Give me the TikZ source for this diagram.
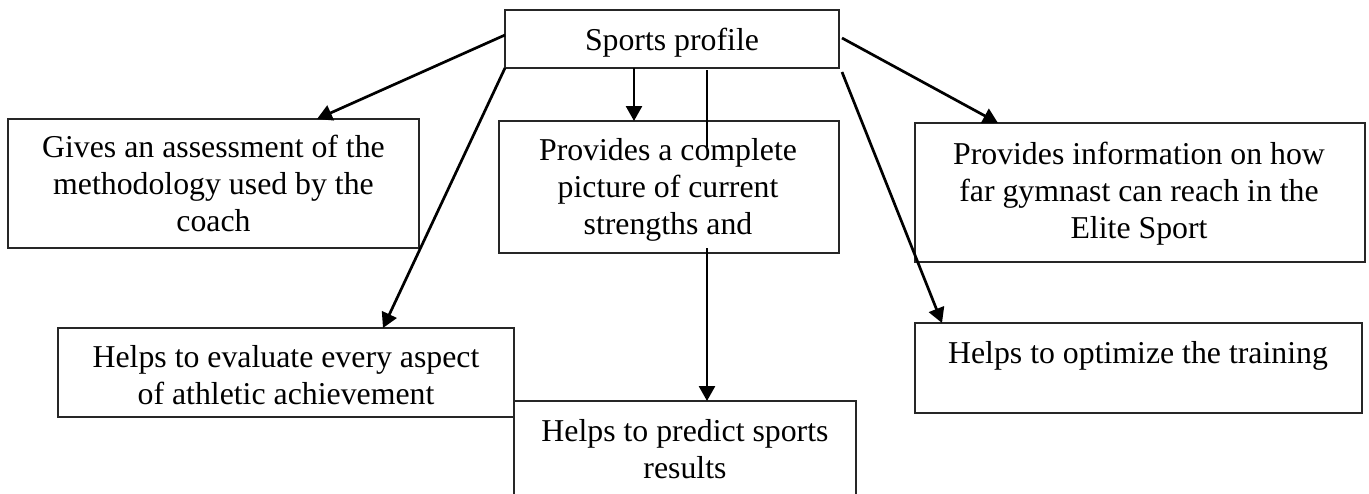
\documentclass[tikz,border=0pt]{standalone}
\usepackage{fontspec}
\setmainfont{Liberation Serif}
\usetikzlibrary{arrows.meta}
\tikzset{
  box/.style={draw=black!85, line width=1.2pt, rectangle, inner sep=0pt, outer sep=0pt, anchor=north west},
  txt/.style={inner sep=0pt, outer sep=0pt, anchor=base, align=center, font=\fontsize{31.8}{36.8}\selectfont},
  arr/.style={line width=2.7pt, -{Triangle[length=15pt,width=16pt]}},
  thinline/.style={line width=1.2pt}
}
\begin{document}
\begin{tikzpicture}[x=1pt,y=-1pt]
\useasboundingbox (0,0) rectangle (1369,493);
% boxes
\node[box, minimum width=334pt, minimum height=58pt] (top) at (505,10) {};
\node[box, minimum width=411pt, minimum height=129pt] (left) at (8,119) {};
\node[box, minimum width=340pt, minimum height=132pt] (mid) at (499,121) {};
\node[box, minimum width=456pt, minimum height=89pt] (eval) at (58,328) {};
\node[box, minimum width=342pt, minimum height=110pt] (bot) at (514,401) {};
\node[box, minimum width=450pt, minimum height=139pt] (r1) at (915,123) {};
\node[box, minimum width=447pt, minimum height=90pt] (r2) at (915,323) {};
% texts (anchor=base is the last line's baseline)
\node[txt] (topT) at (672,50) {Sports profile};
\node[txt] (leftT) at (213.5,231) {Gives an assessment of the\\methodology used by the\\coach};
\node[txt] (midT) at (668,234) {Provides a complete\\picture of current\\strengths and};
\node[txt] (evalT) at (286,404) {Helps to evaluate every aspect\\of athletic achievement};
\node[txt] (botT) at (685,478) {Helps to predict sports\\results};
\node[txt] (r1T) at (1139,238) {Provides information on how\\far gymnast can reach in the\\Elite Sport};
\node[txt] (r2T) at (1138,363) {Helps to optimize the training};
% connectors
\draw[arr] ([yshift=4pt]top.west) -- ([xshift=103.5pt]left.north);
\draw[arr] (top.south west) -- ([xshift=97pt]eval.north);
\draw[arr] ([xshift=-38pt]top.south) -- ([xshift=-38pt]top.south |- mid.north);
\draw[arr] ([xshift=3pt,yshift=1pt]top.east) -- ([xshift=-142pt]r1.north);
\draw[arr] ([shift={(3pt,-4pt)}]top.south east) -- ([xshift=-196.5pt]r2.north);
\draw[thinline] ([xshift=35pt,yshift=-2pt]top.south) -- ([xshift=38pt,yshift=-26pt]mid.north);
\draw[arr] ([xshift=38pt,yshift=5pt]mid.south) -- ([xshift=22pt]bot.north);
\end{tikzpicture}
\end{document}
